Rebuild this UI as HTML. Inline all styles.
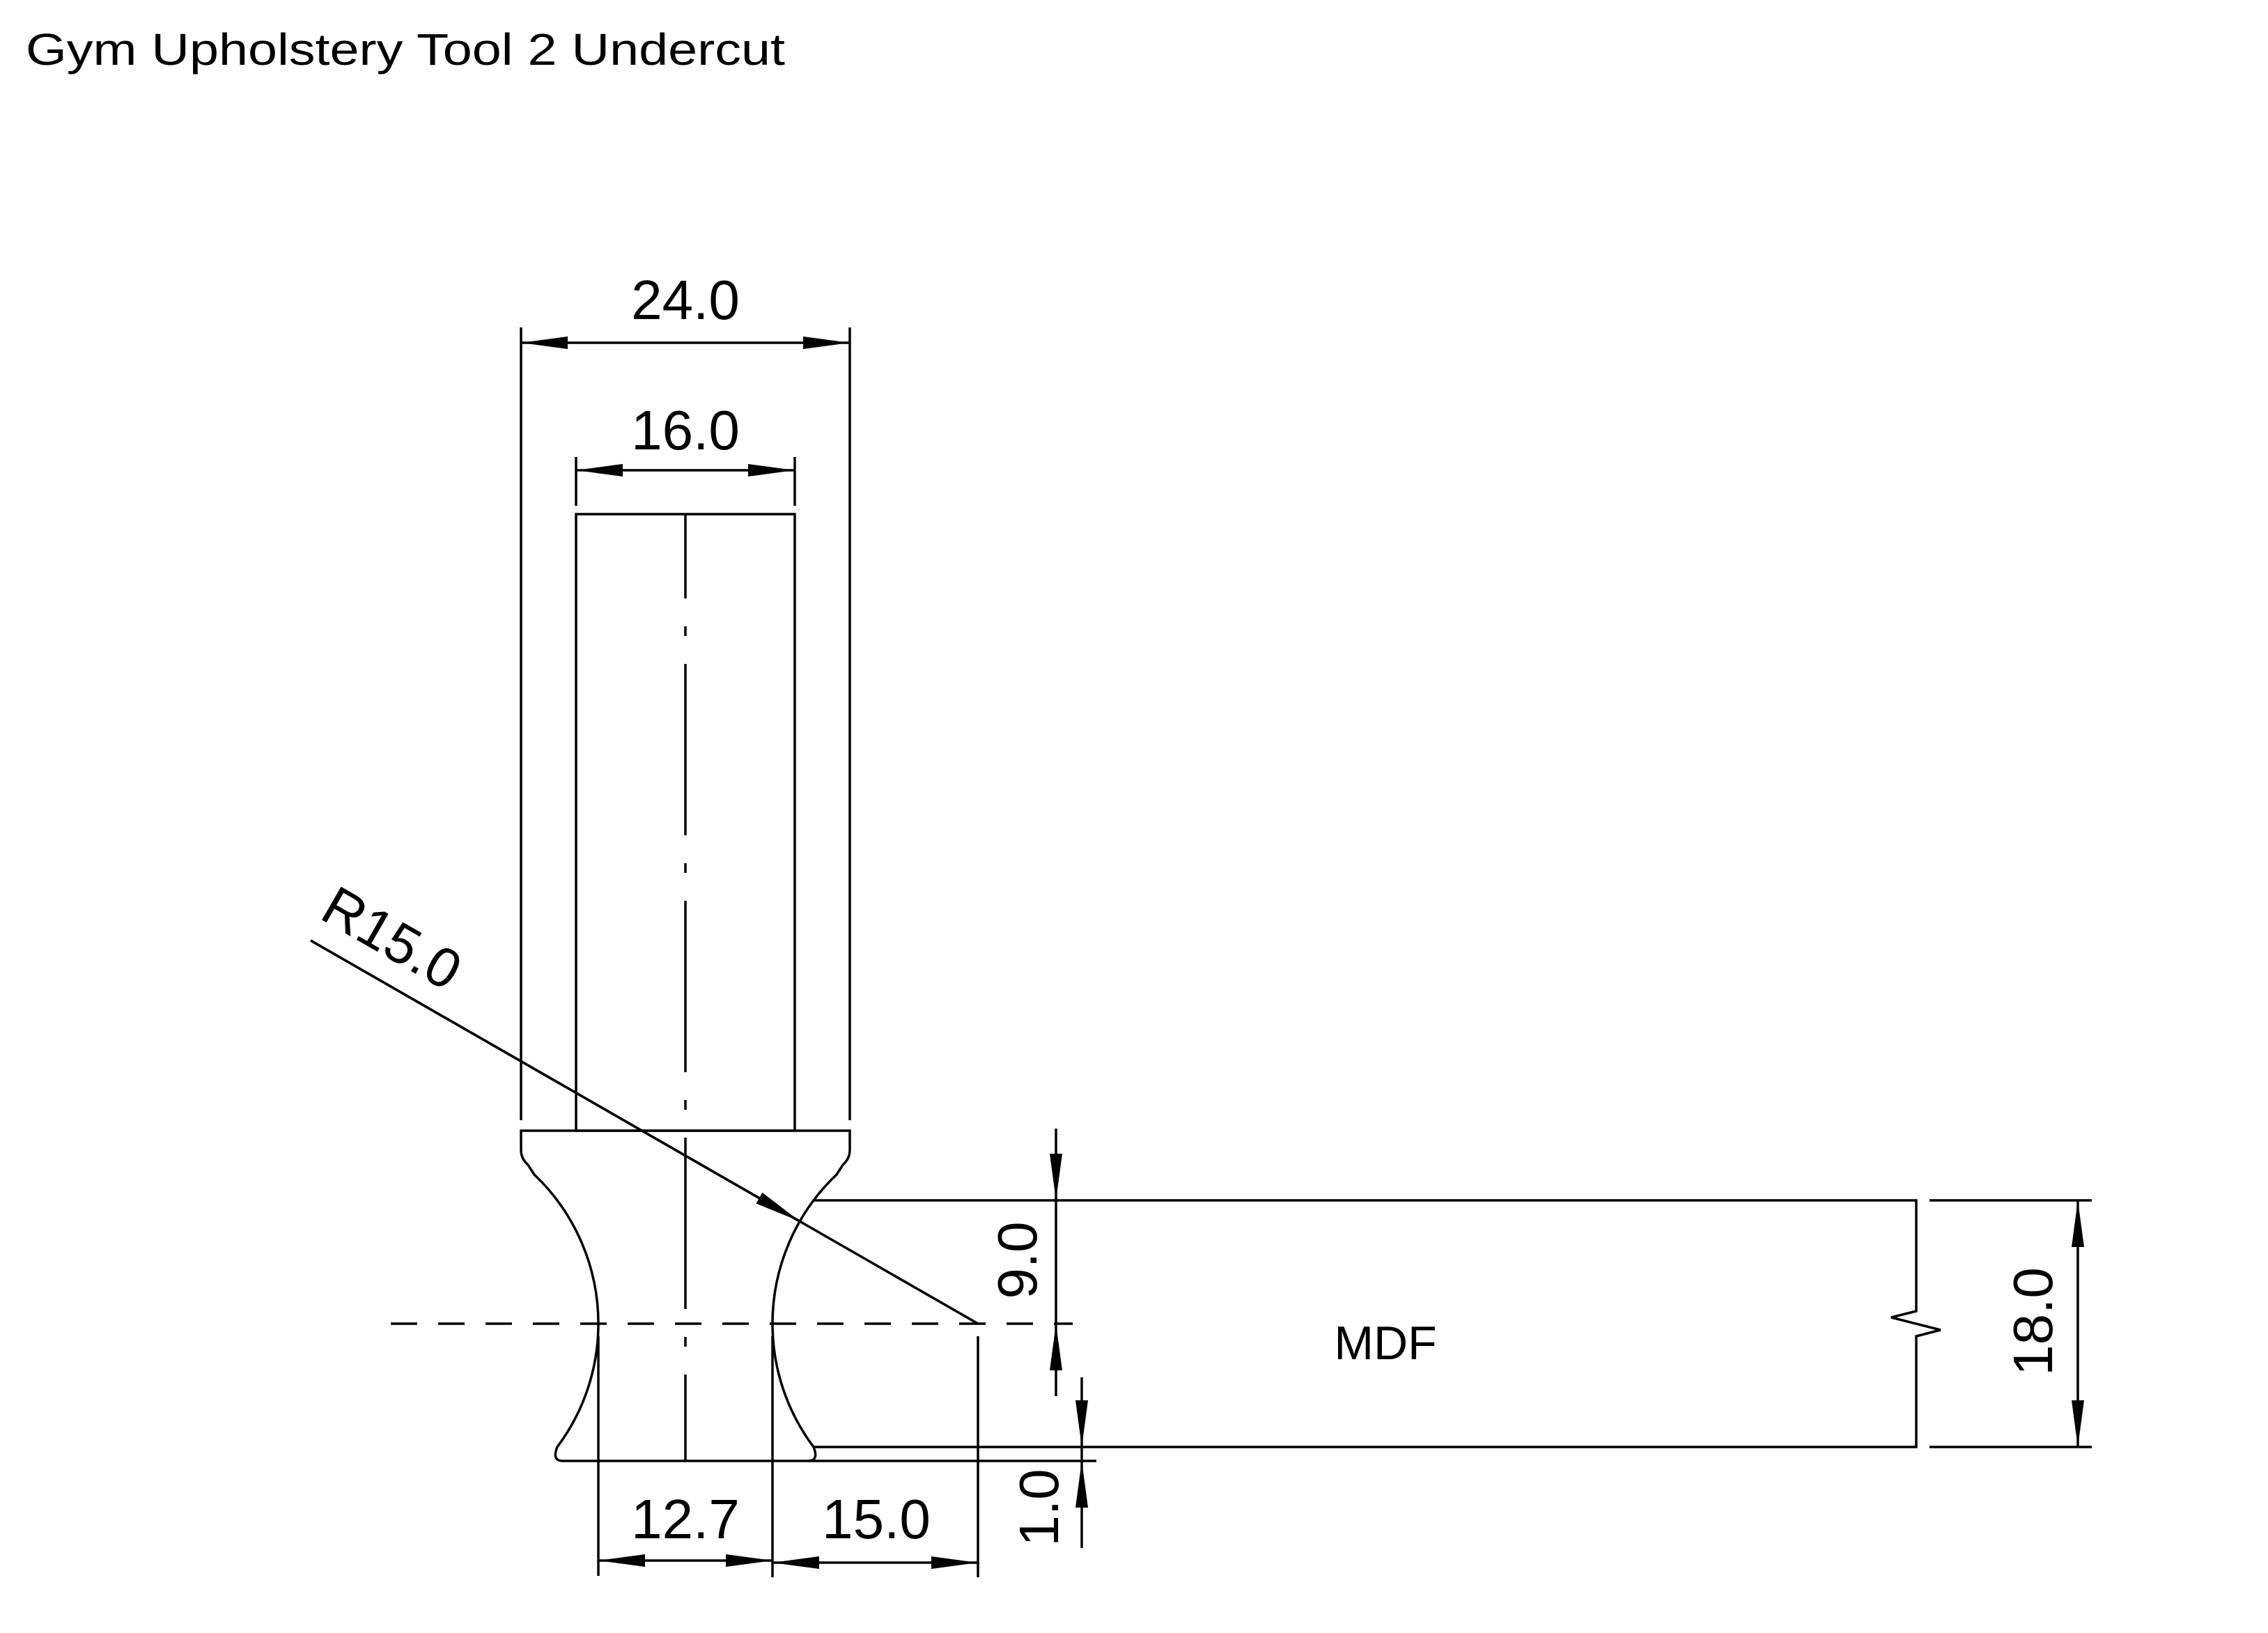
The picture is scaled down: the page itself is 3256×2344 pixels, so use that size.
<!DOCTYPE html>
<html><head><meta charset="utf-8"><style>
html,body{margin:0;padding:0;background:#fff;}
svg{display:block;}
text{font-family:"Liberation Sans",sans-serif;fill:#000;}
</style></head><body>
<svg width="3256" height="2344" viewBox="0 0 3256 2344" xmlns="http://www.w3.org/2000/svg">
<defs>
<marker id="a" viewBox="0 0 67 18" refX="67" refY="9" markerWidth="67" markerHeight="18" markerUnits="userSpaceOnUse" orient="auto-start-reverse">
<path d="M0,0 L67,9 L0,18 Z" fill="#000"/>
</marker>
</defs>
<text x="37" y="93" font-size="64" textLength="1090" lengthAdjust="spacingAndGlyphs">Gym Upholstery Tool 2 Undercut</text>

<g stroke="#000" stroke-width="3.5" fill="none" stroke-linecap="butt">
<!-- extension lines 24.0 -->
<line x1="748" y1="470" x2="748" y2="1608"/>
<line x1="1220" y1="470" x2="1220" y2="1608"/>
<line x1="748" y1="492" x2="1220" y2="492" marker-start="url(#a)" marker-end="url(#a)"/>
<!-- 16.0 -->
<line x1="827" y1="656" x2="827" y2="726"/>
<line x1="1141" y1="656" x2="1141" y2="726"/>
<line x1="827" y1="675" x2="1141" y2="675" marker-start="url(#a)" marker-end="url(#a)"/>
<!-- shank -->
<rect x="827" y="738" width="314" height="885"/>
<!-- centerline -->
<line x1="984" y1="738" x2="984" y2="2097" stroke-dasharray="246 40 14 40" stroke-dashoffset="125"/>
<!-- tool profile -->
<path d="M748,1623 L1220,1623 L1220,1651 Q1220,1663 1210,1672 L1201,1686 A295,295 0 0,0 1109,1900 A295,295 0 0,0 1168,2077 Q1176,2097 1160,2097 L808,2097 Q792,2097 800,2077 A295,295 0 0,0 859,1900 A295,295 0 0,0 767,1686 L758,1672 Q748,1663 748,1651 Z"/>
<!-- MDF -->
<path d="M1168,1723 L2751,1723 L2751,1882 L2715,1891 L2786,1909 L2751,1918 L2751,2077 L1168,2077"/>
<!-- bottom ext line -->
<line x1="1160" y1="2097" x2="1574" y2="2097"/>
<!-- dashed centre -->
<line x1="561" y1="1900" x2="1540" y2="1900" stroke-dasharray="38 30"/>
<!-- 9.0 dim -->
<line x1="1516" y1="1620" x2="1516" y2="1723" marker-end="url(#a)"/>
<line x1="1516" y1="1723" x2="1516" y2="1900"/>
<line x1="1516" y1="2004" x2="1516" y2="1900" marker-end="url(#a)"/>
<!-- 1.0 dim -->
<line x1="1553" y1="1977" x2="1553" y2="2077" marker-end="url(#a)"/>
<line x1="1553" y1="2077" x2="1553" y2="2097"/>
<line x1="1553" y1="2222" x2="1553" y2="2097" marker-end="url(#a)"/>
<!-- 18.0 dim -->
<line x1="2770" y1="1723" x2="3003" y2="1723"/>
<line x1="2770" y1="2077" x2="3003" y2="2077"/>
<line x1="2983" y1="1723" x2="2983" y2="2077" marker-start="url(#a)" marker-end="url(#a)"/>
<!-- 12.7 / 15.0 -->
<line x1="859" y1="1918" x2="859" y2="2262"/>
<line x1="1109" y1="1918" x2="1109" y2="2264"/>
<line x1="1404" y1="1918" x2="1404" y2="2264"/>
<line x1="859" y1="2240" x2="1109" y2="2240" marker-start="url(#a)" marker-end="url(#a)"/>
<line x1="1109" y1="2243" x2="1404" y2="2243" marker-start="url(#a)" marker-end="url(#a)"/>
<!-- R15 leader -->
<line x1="446" y1="1350" x2="1404" y2="1900"/>
<line x1="446" y1="1350" x2="1148" y2="1753" marker-end="url(#a)"/>
</g>

<g font-size="80" text-anchor="middle">
<text x="984" y="458">24.0</text>
<text x="984" y="645">16.0</text>
<text x="984" y="2208">12.7</text>
<text x="1258" y="2208">15.0</text>
<text x="1989" y="1951" font-size="68">MDF</text>
<text transform="translate(1488,1809) rotate(-90)">9.0</text>
<text transform="translate(1519,2164) rotate(-90)">1.0</text>
<text transform="translate(2946,1897) rotate(-90)">18.0</text>
<text transform="translate(563,1346) rotate(29.9)" dy="28">R15.0</text>
</g>
</svg>
</body></html>
